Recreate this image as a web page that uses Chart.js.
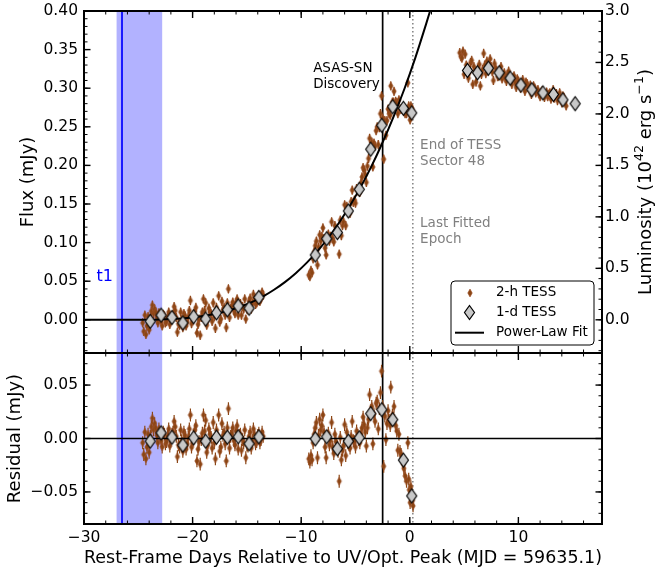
<!DOCTYPE html>
<html>
<head>
<meta charset="utf-8">
<script src="https://cdn.jsdelivr.net/npm/chart.js@4.4.0/dist/chart.umd.min.js"></script>
<style>
  html, body { margin: 0; padding: 0; background: #fff; }
  #wrap { position: relative; width: 657px; height: 572px; overflow: hidden; }
  #wrap canvas { position: absolute; left: 0; }
  #fluxChart { top: 0; }
  #residChart { top: 343px; }
</style>
</head>
<body>
<div id="wrap">
  <canvas id="fluxChart" width="657" height="354"></canvas>
  <canvas id="residChart" width="657" height="229"></canvas>
</div>
<script>
// 2-h TESS cadence during the rise (pre-gap + fitted epochs), days from peak
const riseDays = [
  -24.6, -24.5, -24.4, -24.3, -24.2, -24.1, -24.0, -23.9, -23.8, -23.7,
  -23.6, -23.5, -23.4, -23.3, -23.2, -23.1, -23.0, -22.9, -22.8, -22.7,
  -22.6, -22.5, -22.4, -22.3, -22.2, -22.1, -22.0, -21.9, -21.8, -21.7,
  -21.6, -21.5, -21.4, -21.3, -21.2, -21.1, -21.0, -20.9, -20.8, -20.7,
  -20.6, -20.5, -20.4, -20.3, -20.2, -20.1, -20.0, -19.9, -19.8, -19.7,
  -19.6, -19.5, -19.4, -19.3, -19.2, -19.1, -19.0, -18.9, -18.8, -18.7,
  -18.6, -18.5, -18.4, -18.3, -18.2, -18.1, -18.0, -17.9, -17.8, -17.7,
  -17.6, -17.5, -17.4, -17.3, -17.2, -17.1, -17.0, -16.9, -16.8, -16.7,
  -16.6, -16.5, -16.4, -16.3, -16.2, -16.1, -16.0, -15.9, -15.8, -15.7,
  -15.6, -15.5, -15.4, -15.3, -15.2, -15.1, -15.0, -14.9, -14.8, -14.7,
  -14.6, -14.5, -14.4, -14.3, -14.2, -14.1, -14.0, -13.9, -13.8, -13.7,
  -13.6, -13.5,
  -9.3, -9.2, -9.1, -9.0, -8.9, -8.8, -8.7, -8.6, -8.5, -8.4,
  -8.3, -8.2, -8.1, -8.0, -7.9, -7.8, -7.7, -7.6, -7.5, -7.4,
  -7.3, -7.2, -7.1, -7.0, -6.9, -6.8, -6.7, -6.6, -6.5, -6.4,
  -6.3, -6.2, -6.1, -6.0, -5.9, -5.8, -5.7, -5.6, -5.5, -5.4,
  -5.3, -5.2, -5.1, -5.0, -4.9, -4.8, -4.7, -4.6, -4.5, -4.4,
  -4.3, -4.2, -4.1, -4.0, -3.9, -3.8, -3.7, -3.6, -3.5, -3.4,
  -3.3, -3.2, -3.1, -3.0, -2.9, -2.8, -2.7, -2.6, -2.5, -2.4,
  -2.3, -2.2, -2.1, -2.0, -1.9, -1.8, -1.75, -1.6, -1.5, -1.45,
  -1.3, -1.2, -1.1, -1.0, -0.9, -0.8, -0.7, -0.6, -0.55, -0.43,
  -0.3, -0.18, -0.1, -0.05, 0.03, 0.1, 0.2, 0.25, 0.3
];
const riseFlux = [
  -0.004, -0.015, 0.006, -0.019, -0.008, 0.004, -0.013, 0.002, 0.011, 0.019,
  0.008, 0.014, 0.010, 0.003, -0.004, 0.009, 0.005, -0.002, -0.008, 0.007,
  0.005, -0.004, -0.002, 0.003, 0.010, -0.006, 0.000, 0.005, 0.007, 0.017,
  0.012, 0.003, -0.016, -0.005, -0.007, 0.010, 0.000, -0.010, 0.008, 0.005,
  -0.008, -0.003, 0.004, 0.012, 0.025, -0.005, -0.001, 0.005, 0.011, 0.016,
  -0.017, -0.006, 0.001, -0.020, 0.003, 0.010, 0.027, 0.012, 0.022, -0.007,
  0.000, 0.015, 0.010, 0.008, -0.002, 0.022, 0.004, -0.011, 0.016, 0.011,
  0.031, -0.003, 0.001, 0.024, 0.013, 0.016, 0.006, -0.010, 0.022, 0.040,
  0.003, 0.014, 0.018, 0.023, 0.012, 0.008, 0.022, 0.027, 0.006, 0.019,
  0.021, 0.006, 0.017, 0.014, 0.027, 0.001, 0.014, 0.013, 0.024, 0.028,
  0.014, 0.021, 0.033, 0.028, 0.020, 0.022, 0.030, 0.032, 0.024, 0.027,
  0.036, 0.032,
  0.058, 0.056, 0.064, 0.061, 0.079, 0.088, 0.096, 0.102, 0.071, 0.094,
  0.110, 0.102, 0.108, 0.119, 0.105, 0.093, 0.084, 0.106, 0.111, 0.102,
  0.108, 0.127, 0.105, 0.101, 0.122, 0.116, 0.115, 0.111, 0.085, 0.129,
  0.109, 0.122, 0.127, 0.149, 0.122, 0.147, 0.139, 0.140, 0.138, 0.153,
  0.168, 0.152, 0.155, 0.151, 0.170, 0.167, 0.167, 0.165, 0.177, 0.185,
  0.197, 0.194, 0.188, 0.178, 0.199, 0.209, 0.235, 0.223, 0.230, 0.198,
  0.229, 0.225, 0.245, 0.250, 0.227, 0.249, 0.267, 0.290, 0.261, 0.208,
  0.258, 0.239, 0.258, 0.273, 0.267, 0.265, 0.303, 0.282, 0.282, 0.296,
  0.283, 0.281, 0.267, 0.285, 0.273, 0.273, 0.273, 0.272, 0.270, 0.267,
  0.267, 0.307, 0.277, 0.268, 0.259, 0.277, 0.274, 0.271, 0.267
];
const riseResid = [
  -0.004, -0.015, 0.006, -0.019, -0.008, 0.004, -0.013, 0.002, 0.011, 0.019,
  0.008, 0.014, 0.010, 0.003, -0.004, 0.009, 0.005, -0.002, -0.008, 0.006,
  0.004, -0.005, -0.003, 0.002, 0.009, -0.007, -0.001, 0.004, 0.006, 0.016,
  0.011, 0.002, -0.017, -0.006, -0.008, 0.008, -0.002, -0.012, 0.006, 0.003,
  -0.010, -0.005, 0.001, 0.009, 0.022, -0.008, -0.004, 0.002, 0.008, 0.012,
  -0.021, -0.010, -0.003, -0.024, -0.001, 0.005, 0.022, 0.007, 0.017, -0.013,
  -0.006, 0.009, 0.004, 0.001, -0.009, 0.015, -0.004, -0.019, 0.008, 0.003,
  0.022, -0.012, -0.008, 0.014, 0.003, 0.006, -0.005, -0.021, 0.010, 0.028,
  -0.009, 0.002, 0.005, 0.010, -0.002, -0.006, 0.007, 0.012, -0.010, 0.003,
  0.004, -0.011, -0.001, -0.004, 0.008, -0.018, -0.006, -0.007, 0.002, 0.006,
  -0.009, -0.002, 0.009, 0.004, -0.005, -0.003, 0.003, 0.005, -0.004, -0.001,
  0.006, 0.002,
  -0.019, -0.022, -0.016, -0.020, -0.004, 0.004, 0.010, 0.015, -0.018, 0.003,
  0.018, 0.008, 0.012, 0.022, 0.006, -0.008, -0.018, 0.002, 0.005, -0.006,
  -0.002, 0.015, -0.008, -0.014, 0.004, -0.003, -0.007, -0.012, -0.040, 0.001,
  -0.020, -0.011, -0.007, 0.013, -0.016, 0.006, -0.004, -0.006, -0.009, 0.002,
  0.016, -0.002, -0.003, -0.008, 0.007, 0.003, -0.001, -0.004, 0.004, 0.010,
  0.020, 0.013, 0.006, -0.007, 0.010, 0.018, 0.041, 0.026, 0.030, -0.005,
  0.023, 0.016, 0.033, 0.035, 0.009, 0.028, 0.043, 0.063, 0.030, -0.026,
  0.021, -0.001, 0.014, 0.026, 0.017, 0.012, 0.048, 0.022, 0.019, 0.030,
  0.012, 0.007, -0.011, 0.004, -0.012, -0.015, -0.019, -0.024, -0.028, -0.035,
  -0.040, -0.004, -0.038, -0.048, -0.060, -0.045, -0.052, -0.058, -0.063
];

// 2-h TESS cadence after the data gap (not part of the fit)
const peakDays = [
  4.6, 4.7, 4.8, 4.9, 5.0, 5.1, 5.2, 5.3, 5.4, 5.5,
  5.6, 5.7, 5.8, 5.9, 6.0, 6.1, 6.2, 6.3, 6.4, 6.5,
  6.6, 6.7, 6.8, 6.9, 7.0, 7.1, 7.2, 7.3, 7.4, 7.5,
  7.6, 7.7, 7.8, 7.9, 8.0, 8.1, 8.2, 8.3, 8.4, 8.5,
  8.6, 8.7, 8.8, 8.9, 9.0, 9.1, 9.2, 9.3, 9.4, 9.5,
  9.6, 9.7, 9.8, 9.9, 10.0, 10.1, 10.2, 10.3, 10.4, 10.5,
  10.6, 10.7, 10.8, 10.9, 11.0, 11.1, 11.2, 11.3, 11.4, 11.5,
  11.6, 11.7, 11.8, 11.9, 12.0, 12.1, 12.2, 12.3, 12.4, 12.5,
  12.6, 12.7, 12.8, 12.9, 13.0, 13.1, 13.2, 13.3, 13.4, 13.5,
  13.6, 13.7, 13.8, 13.9, 14.0, 14.1, 14.2, 14.3, 14.4
];
const peakFlux = [
  0.346, 0.341, 0.339, 0.348, 0.318, 0.344, 0.330, 0.327, 0.313, 0.321,
  0.333, 0.336, 0.305, 0.328, 0.322, 0.308, 0.317, 0.326, 0.331, 0.303,
  0.318, 0.324, 0.345, 0.330, 0.319, 0.335, 0.322, 0.330, 0.338, 0.328,
  0.321, 0.310, 0.332, 0.326, 0.322, 0.315, 0.316, 0.324, 0.328, 0.312,
  0.317, 0.320, 0.313, 0.309, 0.318, 0.322, 0.312, 0.310, 0.305, 0.314,
  0.316, 0.308, 0.301, 0.312, 0.309, 0.304, 0.300, 0.306, 0.311, 0.303,
  0.296, 0.308, 0.306, 0.301, 0.299, 0.304, 0.292, 0.297, 0.303, 0.300,
  0.294, 0.296, 0.298, 0.293, 0.289, 0.295, 0.297, 0.291, 0.288, 0.293,
  0.295, 0.289, 0.292, 0.294, 0.286, 0.290, 0.298, 0.287, 0.291, 0.293,
  0.284, 0.289, 0.294, 0.286, 0.281, 0.290, 0.288, 0.283, 0.277
];
const twoHourErr = 0.006;

// 1-d binned TESS light curve
const dailyDays = [
  -23.9, -22.9, -21.9, -20.9, -19.9, -18.8, -17.8, -16.8, -15.8, -14.8, -13.9,
  -8.7, -7.65, -6.67, -5.66, -4.65, -3.6, -2.58, -1.57, -0.59, 0.18,
  5.31, 6.23, 7.24, 8.23, 9.24, 10.23, 11.24, 12.26, 13.23, 14.1, 15.23
];
const dailyFlux = [
  -0.002, 0.006, 0.003, -0.004, 0.004, 0.001, 0.009, 0.013, 0.018, 0.015, 0.029,
  0.084, 0.105, 0.113, 0.141, 0.169, 0.221, 0.252, 0.276, 0.274, 0.268,
  0.323, 0.320, 0.326, 0.320, 0.313, 0.304, 0.298, 0.294, 0.292, 0.285, 0.280
];
// residuals exist only up to the last fitted epoch
const dailyResid = [
  -0.0025, 0.0053, 0.0012, -0.0062, 0.0006, -0.0025, 0.0012, 0.0012, 0.0016, -0.0049, 0.0016,
  -0.0003, 0.0016, -0.0096, -0.0025, 0.0007, 0.0233, 0.027, 0.0177, -0.0202, -0.0537
];

// power-law rise, flat before t1
const fitDays = [
  -30, -26.5, -25.5, -24.5, -23.5, -22.5, -21.5, -20.5, -19.5, -18.5,
  -17.5, -16.5, -15.5, -14.5, -13.5, -12.5, -11.5, -10.5, -9.5, -8.5,
  -7.5, -6.5, -5.5, -4.5, -3.5, -2.5, -1.5, -0.5, 0.5, 1.5, 2.0
];
const fitFlux = [
  0, 0, 0.0000, 0.0001, 0.0002, 0.0006, 0.0013, 0.0024, 0.0039, 0.0061,
  0.0090, 0.0128, 0.0175, 0.0233, 0.0304, 0.0389, 0.0488, 0.0604, 0.0737, 0.0890,
  0.1063, 0.126, 0.148, 0.1725, 0.1997, 0.230, 0.263, 0.299, 0.339, 0.383, 0.406
];

// event epochs
const t1Day = -26.5;
const t1Window = [-27.0, -22.8];
const discoveryDay = -2.5;
const lastFitDay = 0.28;

// axes
const xTicks = [-30, -20, -10, 0, 10];
const fluxTicks = [0, 0.05, 0.10, 0.15, 0.20, 0.25, 0.30, 0.35, 0.40];
const lumTicks = [0, 0.5, 1.0, 1.5, 2.0, 2.5, 3.0];
const residTicks = [-0.05, 0, 0.05];
const lumPerFlux = 7.5;   // 1e42 erg/s per mJy
const X_MIN = -30, X_MAX = 17.7;
const FLUX_MIN = -0.043, FLUX_MAX = 0.40;
const RESID_MIN = -0.08, RESID_MAX = 0.08;

const fontFamily = "'DejaVu Sans', sans-serif";
const brown = '#8B4513';
Chart.defaults.font.family = fontFamily;
Chart.defaults.color = '#000';

const pts = (xs, ys) => ys.map((y, i) => ({ x: xs[i], y }));

function tickRange(a, b, step) {
  const out = [];
  for (let v = a; v <= b + step / 2; v += step) out.push(Math.round(v * 1000) / 1000);
  return out;
}

function diamondMarker(w, h, fill, stroke, lw) {
  const c = document.createElement('canvas');
  c.width = Math.ceil(w + 2 * lw) + 2;
  c.height = Math.ceil(h + 2 * lw) + 2;
  const g = c.getContext('2d');
  const cx = c.width / 2, cy = c.height / 2;
  g.beginPath();
  g.moveTo(cx, cy - h / 2);
  g.lineTo(cx + w / 2, cy);
  g.lineTo(cx, cy + h / 2);
  g.lineTo(cx - w / 2, cy);
  g.closePath();
  g.fillStyle = fill;
  g.fill();
  if (lw) { g.lineWidth = lw; g.strokeStyle = stroke; g.stroke(); }
  return c;
}
const smallMark = diamondMarker(4.5, 8, brown, '#a0522d', 0.6);
const bigMark = diamondMarker(10, 14, '#c8c8c8', '#000', 1.2);

// fixed axis box sizes so both panels share the same plot area
function fixedScale(width, height) {
  return (scale) => {
    if (width != null) scale.width = width;
    if (height != null) scale.height = height;
    scale.paddingTop = scale.paddingBottom = scale.paddingLeft = scale.paddingRight = 0;
  };
}
const setTicks = (values) => (scale) => { scale.ticks = values.map(v => ({ value: v })); };
const fmt = (digits) => (v) => (Math.abs(v) < 1e-9 ? 0 : Number(v)).toFixed(digits).replace('-', '\u2212');

// nudge layout padding until the plot area sits exactly where wanted
function pinChartArea(chart, target) {
  const p = chart.options.layout.padding;
  const a = chart.chartArea;
  p.top += target.top - a.top;
  p.bottom += a.bottom - target.bottom;
  p.left += target.left - a.left;
  p.right += a.right - target.right;
  chart.update();
}

// vertical error bars for datasets carrying yErr
const errorBars = {
  id: 'errorBars',
  beforeDatasetDraw(chart, args) {
    const ds = chart.data.datasets[args.index];
    if (!ds.yErr) return;
    const { ctx, chartArea: a } = chart;
    const ys = chart.scales[args.meta.yAxisID];
    ctx.save();
    ctx.beginPath();
    ctx.rect(a.left, a.top, a.right - a.left, a.bottom - a.top);
    ctx.clip();
    ctx.strokeStyle = ds.errColor;
    ctx.lineWidth = 1.2;
    ctx.beginPath();
    ds.data.forEach((p, i) => {
      const el = args.meta.data[i];
      ctx.moveTo(el.x, ys.getPixelForValue(p.y - ds.yErr));
      ctx.lineTo(el.x, ys.getPixelForValue(p.y + ds.yErr));
    });
    ctx.stroke();
    ctx.restore();
  }
};

// t1 window, t1, discovery and last-fitted-epoch lines
const eventMarkers = {
  id: 'eventMarkers',
  beforeDatasetsDraw(chart) {
    const { ctx, chartArea: a, scales: { x } } = chart;
    const h = a.bottom - a.top;
    ctx.save();
    ctx.beginPath();
    ctx.rect(a.left, a.top, a.right - a.left, h);
    ctx.clip();
    const b0 = x.getPixelForValue(t1Window[0]);
    const b1 = x.getPixelForValue(t1Window[1]);
    ctx.fillStyle = 'rgba(0, 0, 255, 0.3)';
    ctx.fillRect(b0, a.top, b1 - b0, h);
    const vline = (day, color, width, dash) => {
      const px = x.getPixelForValue(day);
      ctx.beginPath();
      ctx.setLineDash(dash);
      ctx.strokeStyle = color;
      ctx.lineWidth = width;
      ctx.moveTo(px, a.top);
      ctx.lineTo(px, a.bottom);
      ctx.stroke();
    };
    vline(t1Day, '#0000ff', 1.7, []);
    vline(discoveryDay, '#000', 1.7, []);
    vline(lastFitDay, '#808080', 1.5, [1.5, 2.5]);
    ctx.restore();
  }
};

// box frame with inward major/minor ticks on all four sides
function frameTicks(cfg) {
  return {
    id: 'frameTicks',
    afterDatasetsDraw(chart) {
      const { ctx, chartArea: a, scales } = chart;
      const x = scales.x;
      ctx.save();
      ctx.strokeStyle = '#000';
      const seg = (x1, y1, x2, y2, w) => {
        ctx.lineWidth = w;
        ctx.beginPath();
        ctx.moveTo(x1, y1);
        ctx.lineTo(x2, y2);
        ctx.stroke();
      };
      const inRange = (s, v) => v >= s.min - 1e-9 && v <= s.max + 1e-9;
      const xMarks = (vals, len, w) => vals.filter(v => inRange(x, v)).forEach(v => {
        const p = x.getPixelForValue(v);
        seg(p, a.bottom, p, a.bottom - len, w);
        seg(p, a.top, p, a.top + len, w);
      });
      const yMarks = (s, vals, len, w, left) => vals.filter(v => inRange(s, v)).forEach(v => {
        const p = s.getPixelForValue(v);
        if (left) seg(a.left, p, a.left + len, p, w);
        else seg(a.right, p, a.right - len, p, w);
      });
      xMarks(cfg.xMinor, 3.5, 1);
      xMarks(cfg.xMajor, 7, 1.4);
      yMarks(scales[cfg.left], cfg.leftMinor, 3.5, 1, true);
      yMarks(scales[cfg.left], cfg.leftMajor, 6.5, 1.4, true);
      yMarks(scales[cfg.right], cfg.rightMinor, 3.5, 1, false);
      yMarks(scales[cfg.right], cfg.rightMajor, 6.5, 1.4, false);
      ctx.lineWidth = 2;
      ctx.strokeRect(a.left, a.top, a.right - a.left, a.bottom - a.top);
      ctx.restore();
    }
  };
}

// text notes anchored in data coordinates
function notes(list) {
  return {
    id: 'notes',
    afterDatasetsDraw(chart) {
      const { ctx, scales: { x, y } } = chart;
      ctx.save();
      ctx.textBaseline = 'middle';
      ctx.textAlign = 'left';
      list.forEach(n => {
        ctx.font = `${n.size}px ${fontFamily}`;
        ctx.fillStyle = n.color;
        const px = x.getPixelForValue(n.x);
        const py = y.getPixelForValue(n.y);
        n.lines.forEach((t, i) => ctx.fillText(t, px, py + i * 16));
      });
      ctx.restore();
    }
  };
}

// framed legend in the lower right corner of the flux panel
function boxLegend(order) {
  return {
    id: 'boxLegend',
    afterDraw(chart) {
      const { ctx, chartArea: a } = chart;
      const w = 143, h = 64;
      const x0 = a.right - 8 - w, y0 = a.bottom - 8 - h, r = 4;
      ctx.save();
      ctx.beginPath();
      ctx.moveTo(x0 + r, y0);
      ctx.arcTo(x0 + w, y0, x0 + w, y0 + h, r);
      ctx.arcTo(x0 + w, y0 + h, x0, y0 + h, r);
      ctx.arcTo(x0, y0 + h, x0, y0, r);
      ctx.arcTo(x0, y0, x0 + w, y0, r);
      ctx.closePath();
      ctx.fillStyle = '#fff';
      ctx.fill();
      ctx.lineWidth = 1;
      ctx.strokeStyle = '#000';
      ctx.stroke();
      ctx.font = `13.5px ${fontFamily}`;
      ctx.textBaseline = 'middle';
      order.forEach((idx, i) => {
        const ds = chart.data.datasets[idx];
        const cy = y0 + 11.7 + i * 20;
        const mx = x0 + 18.5;
        if (ds.showLine) {
          ctx.strokeStyle = ds.borderColor;
          ctx.lineWidth = 2;
          ctx.beginPath();
          ctx.moveTo(x0 + 4, cy);
          ctx.lineTo(x0 + 33, cy);
          ctx.stroke();
        } else {
          const m = ds.pointStyle;
          ctx.drawImage(m, Math.round(mx - m.width / 2), Math.round(cy - m.height / 2));
        }
        ctx.fillStyle = '#000';
        ctx.fillText(ds.label, x0 + 45, cy);
      });
      ctx.restore();
    }
  };
}

// right-hand luminosity title with superscripts, reading bottom to top
const lumTitle = {
  id: 'lumTitle',
  afterDraw(chart) {
    const { ctx, chartArea: a } = chart;
    const pieces = [
      { t: 'Luminosity (10', sup: false },
      { t: '42', sup: true },
      { t: ' erg s', sup: false },
      { t: '\u22121', sup: true },
      { t: ')', sup: false }
    ];
    const big = `18px ${fontFamily}`, small = `12.6px ${fontFamily}`;
    ctx.save();
    ctx.translate(a.right + 44.7, (a.top + a.bottom) / 2);
    ctx.rotate(-Math.PI / 2);
    ctx.textBaseline = 'middle';
    ctx.fillStyle = '#000';
    let total = 0;
    pieces.forEach(p => { ctx.font = p.sup ? small : big; p.w = ctx.measureText(p.t).width; total += p.w; });
    let cx = -total / 2;
    pieces.forEach(p => {
      ctx.font = p.sup ? small : big;
      ctx.fillText(p.t, cx, p.sup ? -6.5 : 0);
      cx += p.w;
    });
    ctx.restore();
  }
};

const xMinor = tickRange(-30, 16, 2);

const fluxChart = new Chart(document.getElementById('fluxChart'), {
  type: 'scatter',
  data: {
    datasets: [
      {
        label: '2-h TESS',
        data: pts(riseDays, riseFlux).concat(pts(peakDays, peakFlux)),
        pointStyle: smallMark, pointRadius: 4,
        yErr: twoHourErr, errColor: brown,
        order: 2
      },
      {
        label: 'Power-Law Fit',
        data: pts(fitDays, fitFlux),
        showLine: true, pointRadius: 0,
        borderColor: '#000', borderWidth: 2,
        cubicInterpolationMode: 'monotone',
        order: 1
      },
      {
        label: '1-d TESS',
        data: pts(dailyDays, dailyFlux),
        pointStyle: bigMark, pointRadius: 7,
        order: 0
      }
    ]
  },
  options: {
    responsive: false,
    animation: false,
    devicePixelRatio: 1,
    events: [],
    layout: { autoPadding: false, padding: { top: 11, bottom: 1, left: 0, right: 0 } },
    plugins: { legend: { display: false }, tooltip: { enabled: false } },
    scales: {
      x: { type: 'linear', min: X_MIN, max: X_MAX, display: false },
      y: {
        type: 'linear', position: 'left', min: FLUX_MIN, max: FLUX_MAX,
        afterBuildTicks: setTicks(fluxTicks), afterFit: fixedScale(84),
        grid: { display: false, drawTicks: false }, border: { display: false },
        ticks: { font: { size: 15.5 }, padding: 6, callback: fmt(2), autoSkip: false },
        title: { display: true, text: 'Flux (mJy)', font: { size: 18 }, padding: { top: 17.5, bottom: 0 } }
      },
      y2: {
        type: 'linear', position: 'right',
        min: FLUX_MIN * lumPerFlux, max: FLUX_MAX * lumPerFlux,
        afterBuildTicks: setTicks(lumTicks), afterFit: fixedScale(55),
        grid: { display: false, drawTicks: false }, border: { display: false },
        ticks: { font: { size: 15.5 }, padding: 3, callback: fmt(1), autoSkip: false }
      }
    }
  },
  plugins: [
    errorBars,
    eventMarkers,
    frameTicks({
      xMajor: xTicks, xMinor,
      left: 'y', leftMajor: fluxTicks, leftMinor: tickRange(-0.04, 0.40, 0.01),
      right: 'y2', rightMajor: lumTicks, rightMinor: tickRange(-0.3, 3.0, 0.1)
    }),
    notes([
      { lines: ['ASAS-SN', 'Discovery'], x: -8.9, y: 0.326, color: '#000', size: 13.5 },
      { lines: ['End of TESS', 'Sector 48'], x: 0.95, y: 0.2255, color: '#808080', size: 13.5 },
      { lines: ['Last Fitted', 'Epoch'], x: 0.95, y: 0.125, color: '#808080', size: 13.5 },
      { lines: ['t1'], x: -28.85, y: 0.0552, color: '#0000ff', size: 16 }
    ]),
    boxLegend([0, 2, 1]),
    lumTitle
  ]
});
pinChartArea(fluxChart, { top: 11, bottom: 353, left: 84, right: 602 });

const residChart = new Chart(document.getElementById('residChart'), {
  type: 'scatter',
  data: {
    datasets: [
      {
        label: '2-h TESS',
        data: pts(riseDays, riseResid),
        pointStyle: smallMark, pointRadius: 4,
        yErr: twoHourErr, errColor: brown,
        order: 2
      },
      {
        label: 'Zero',
        data: [{ x: X_MIN, y: 0 }, { x: X_MAX, y: 0 }],
        showLine: true, pointRadius: 0,
        borderColor: '#000', borderWidth: 1.6,
        order: 1
      },
      {
        label: '1-d TESS',
        data: pts(dailyDays, dailyResid),
        pointStyle: bigMark, pointRadius: 7,
        order: 0
      }
    ]
  },
  options: {
    responsive: false,
    animation: false,
    devicePixelRatio: 1,
    events: [],
    layout: { autoPadding: false, padding: { top: 10, bottom: 0, left: 0, right: 55 } },
    plugins: { legend: { display: false }, tooltip: { enabled: false } },
    scales: {
      x: {
        type: 'linear', position: 'bottom', min: X_MIN, max: X_MAX,
        afterBuildTicks: setTicks(xTicks), afterFit: fixedScale(null, 48),
        grid: { display: false, drawTicks: false }, border: { display: false },
        ticks: { font: { size: 15.5 }, padding: 4.5, callback: fmt(0), autoSkip: false, maxRotation: 0 },
        title: {
          display: true, text: 'Rest-Frame Days Relative to UV/Opt. Peak (MJD = 59635.1)',
          font: { size: 18 }, padding: { top: 0, bottom: 3 }
        }
      },
      y: {
        type: 'linear', position: 'left', min: RESID_MIN, max: RESID_MAX,
        afterBuildTicks: setTicks(residTicks), afterFit: fixedScale(84),
        grid: { display: false, drawTicks: false }, border: { display: false },
        ticks: { font: { size: 15.5 }, padding: 6, callback: fmt(2), autoSkip: false },
        title: { display: true, text: 'Residual (mJy)', font: { size: 18 }, padding: { top: 4.9, bottom: 0 } }
      }
    }
  },
  plugins: [
    errorBars,
    eventMarkers,
    frameTicks({
      xMajor: xTicks, xMinor,
      left: 'y', leftMajor: residTicks, leftMinor: tickRange(-0.08, 0.08, 0.01),
      right: 'y', rightMajor: residTicks, rightMinor: tickRange(-0.08, 0.08, 0.01)
    })
  ]
});
pinChartArea(residChart, { top: 10, bottom: 181, left: 84, right: 602 });
</script>
</body>
</html>
